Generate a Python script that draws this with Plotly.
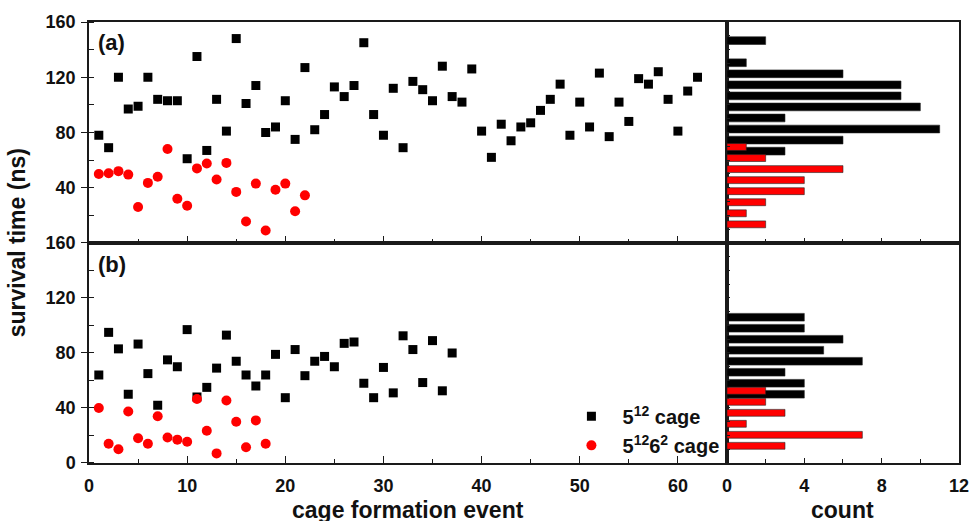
import plotly.graph_objects as go

# ---------------- data ----------------
# panel (a)
a_sq_x = list(range(1, 63))
a_sq_y = [78, 69, 120, 97, 99, 120, 104, 103, 103, 61, 135, 67, 104, 81, 148, 101,
          114, 80, 84, 103, 75, 127, 82, 93, 113, 106, 114, 145, 93, 78, 112, 69,
          117, 111, 103, 128, 106, 102, 126, 81, 62, 86, 74, 84, 87, 96, 104, 115,
          78, 102, 84, 123, 77, 102, 88, 119, 115, 124, 104, 81, 110, 120]
a_ci_x = list(range(1, 23))
a_ci_y = [50, 50.5, 52, 49.5, 26, 43.5, 48, 68, 32, 27, 54, 57.5, 46, 58, 37, 15.5,
          43, 9, 38.5, 43, 23, 34.5]

# panel (b)
b_sq_x = list(range(1, 38))
b_sq_y = [64, 95, 83, 50, 86.5, 65, 42, 75, 70, 97, 48, 55, 69, 93, 74, 64, 56, 64,
          79, 47.5, 82.5, 63.5, 74, 77.5, 70, 87, 88, 58, 47.5, 69.5, 51, 92.5, 82.5,
          58.5, 89, 52.5, 80]
b_ci_x = list(range(1, 19))
b_ci_y = [40, 14, 10, 37.5, 18, 14, 34, 18.5, 17, 15.5, 46.5, 23.5, 7, 45.5, 30,
          11.5, 31, 14]

# histograms (bin centre, count)
ha_sq_bin = [146.5, 130.5, 122.5, 114.5, 106.5, 98.5, 90.5, 82.5, 74.5, 66.5]
ha_sq_cnt = [2, 1, 6, 9, 9, 10, 3, 11, 6, 3]
ha_ci_bin = [69.5, 61.5, 53.5, 45.5, 37.5, 29.5, 21.5, 13.5]
ha_ci_cnt = [1, 2, 6, 4, 4, 2, 1, 2]
hb_sq_bin = [106, 98, 90, 82, 74, 66, 58, 50]
hb_sq_cnt = [4, 4, 6, 5, 7, 3, 4, 4]
hb_ci_bin = [52.5, 44.5, 36.5, 28.5, 20.5, 12.5]
hb_ci_cnt = [2, 2, 3, 1, 7, 3]

y_ticks_a = [40, 80, 120, 160]
y_ticks_b = [0, 40, 80, 120, 160]
x_ticks = [0, 10, 20, 30, 40, 50, 60]
c_ticks = [0, 4, 8, 12]

BLACK = "#000000"
RED = "#ff0000"
FONT = "Liberation Sans, Arial, sans-serif"
INK = "#111111"
NB = "\u00a0\u00a0"

fig = go.Figure()

sq = dict(symbol="square", size=9, color=BLACK)
ci = dict(symbol="circle", size=10, color=RED)

fig.add_trace(go.Scatter(x=a_sq_x, y=a_sq_y, mode="markers", marker=sq,
                         name=NB + "5<sup>12</sup> cage", xaxis="x", yaxis="y"))
fig.add_trace(go.Scatter(x=a_ci_x, y=a_ci_y, mode="markers", marker=ci,
                         name=NB + "5<sup>12</sup>6<sup>2</sup> cage", xaxis="x", yaxis="y"))
fig.add_trace(go.Scatter(x=b_sq_x, y=b_sq_y, mode="markers", marker=sq,
                         showlegend=False, xaxis="x3", yaxis="y3"))
fig.add_trace(go.Scatter(x=b_ci_x, y=b_ci_y, mode="markers", marker=ci,
                         showlegend=False, xaxis="x3", yaxis="y3"))

bar_line = dict(color="#222222", width=0.6)
fig.add_trace(go.Bar(x=ha_sq_cnt, y=ha_sq_bin, orientation="h", width=5.6,
                     marker=dict(color=BLACK, line=bar_line), showlegend=False,
                     xaxis="x2", yaxis="y2"))
fig.add_trace(go.Bar(x=ha_ci_cnt, y=ha_ci_bin, orientation="h", width=5.0,
                     marker=dict(color=RED, line=bar_line), showlegend=False,
                     xaxis="x2", yaxis="y2"))
fig.add_trace(go.Bar(x=hb_sq_cnt, y=hb_sq_bin, orientation="h", width=5.6,
                     marker=dict(color=BLACK, line=bar_line), showlegend=False,
                     xaxis="x4", yaxis="y4"))
fig.add_trace(go.Bar(x=hb_ci_cnt, y=hb_ci_bin, orientation="h", width=5.0,
                     marker=dict(color=RED, line=bar_line), showlegend=False,
                     xaxis="x4", yaxis="y4"))

split = 0.7333
ymid = 0.4989
line = dict(showline=True, linecolor="#1a1a1a", linewidth=1.5, mirror=True,
            zeroline=False, showgrid=False, automargin=False)
tickfont = dict(family=FONT, size=18, color=INK, weight="bold")

xmain = dict(line, range=[0, 65], tickvals=x_ticks, ticks="inside", ticklen=7,
             tickwidth=1.2, tickcolor="#1a1a1a",
             minor=dict(dtick=5, tick0=0, ticks="inside", ticklen=4, tickcolor="#1a1a1a"),
             tickfont=tickfont, ticklabelstandoff=6)
xhist = dict(line, range=[0, 12], tickvals=c_ticks, ticks="inside", ticklen=5,
             tickwidth=1.2, tickcolor="#1a1a1a",
             minor=dict(dtick=2, tick0=0, ticks="inside", ticklen=4, tickcolor="#1a1a1a"),
             tickfont=tickfont, ticklabelstandoff=6)
ymain = dict(line, range=[0, 160], ticks="outside", ticklen=6, tickwidth=1.2,
             tickcolor="#1a1a1a",
             minor=dict(dtick=20, tick0=0, ticks="inside", ticklen=5, tickcolor="#1a1a1a"),
             tickfont=tickfont, ticklabelstandoff=2)
yhist = dict(line, range=[0, 160], ticks="inside", ticklen=3, dtick=10,
             tickcolor="#1a1a1a", showticklabels=False)

fig.update_layout(
    width=972, height=521,
    margin=dict(l=89, r=13, t=22, b=58, autoexpand=False),
    paper_bgcolor="white", plot_bgcolor="white",
    barmode="overlay",
    font=dict(family=FONT, color=INK),
    xaxis=dict(xmain, domain=[0, split], anchor="y", showticklabels=False),
    yaxis=dict(ymain, domain=[ymid, 1], anchor="x", tickvals=y_ticks_a),
    xaxis2=dict(xhist, domain=[split, 1], anchor="y2", showticklabels=False),
    yaxis2=dict(yhist, domain=[ymid, 1], anchor="x2"),
    xaxis3=dict(xmain, domain=[0, split], anchor="y3"),
    yaxis3=dict(ymain, domain=[0, ymid], anchor="x3", tickvals=y_ticks_b),
    xaxis4=dict(xhist, domain=[split, 1], anchor="y4"),
    yaxis4=dict(yhist, domain=[0, ymid], anchor="x4"),
    legend=dict(x=0.5545, y=0.150, xanchor="left", yanchor="top",
                bgcolor="rgba(0,0,0,0)", borderwidth=0,
                font=dict(family=FONT, size=20, color=INK, weight="bold"),
                tracegroupgap=0),
)

title_font = dict(family=FONT, size=23, color=INK, weight="bold")
fig.add_annotation(text="cage formation event", x=split / 2, y=-0.106,
                   xref="paper", yref="paper", showarrow=False, font=title_font,
                   xanchor="center", yanchor="middle")
fig.add_annotation(text="count", x=(split + 1) / 2, y=-0.106,
                   xref="paper", yref="paper", showarrow=False, font=title_font,
                   xanchor="center", yanchor="middle")
fig.add_annotation(text="survival time (ns)", x=-0.083, y=0.5,
                   xref="paper", yref="paper", showarrow=False, font=title_font,
                   textangle=-90, xanchor="center", yanchor="middle")
panel_font = dict(family=FONT, size=22, color=INK, weight="bold")
fig.add_annotation(text="(a)", x=0.008, y=0.9546, xref="paper", yref="paper",
                   showarrow=False, font=panel_font, xanchor="left", yanchor="middle")
fig.add_annotation(text="(b)", x=0.008, y=0.451, xref="paper", yref="paper",
                   showarrow=False, font=panel_font, xanchor="left", yanchor="middle")

# pin the figure to the window's top-left corner (no default body margin)
pin = ("document.body.style.margin='0px';"
       "var d=document.getElementById('{plot_id}');"
       "d.style.position='fixed';d.style.left='0px';d.style.top='0px';")
fig.write_html("out.html", config=dict(displayModeBar=False), post_script=pin)
